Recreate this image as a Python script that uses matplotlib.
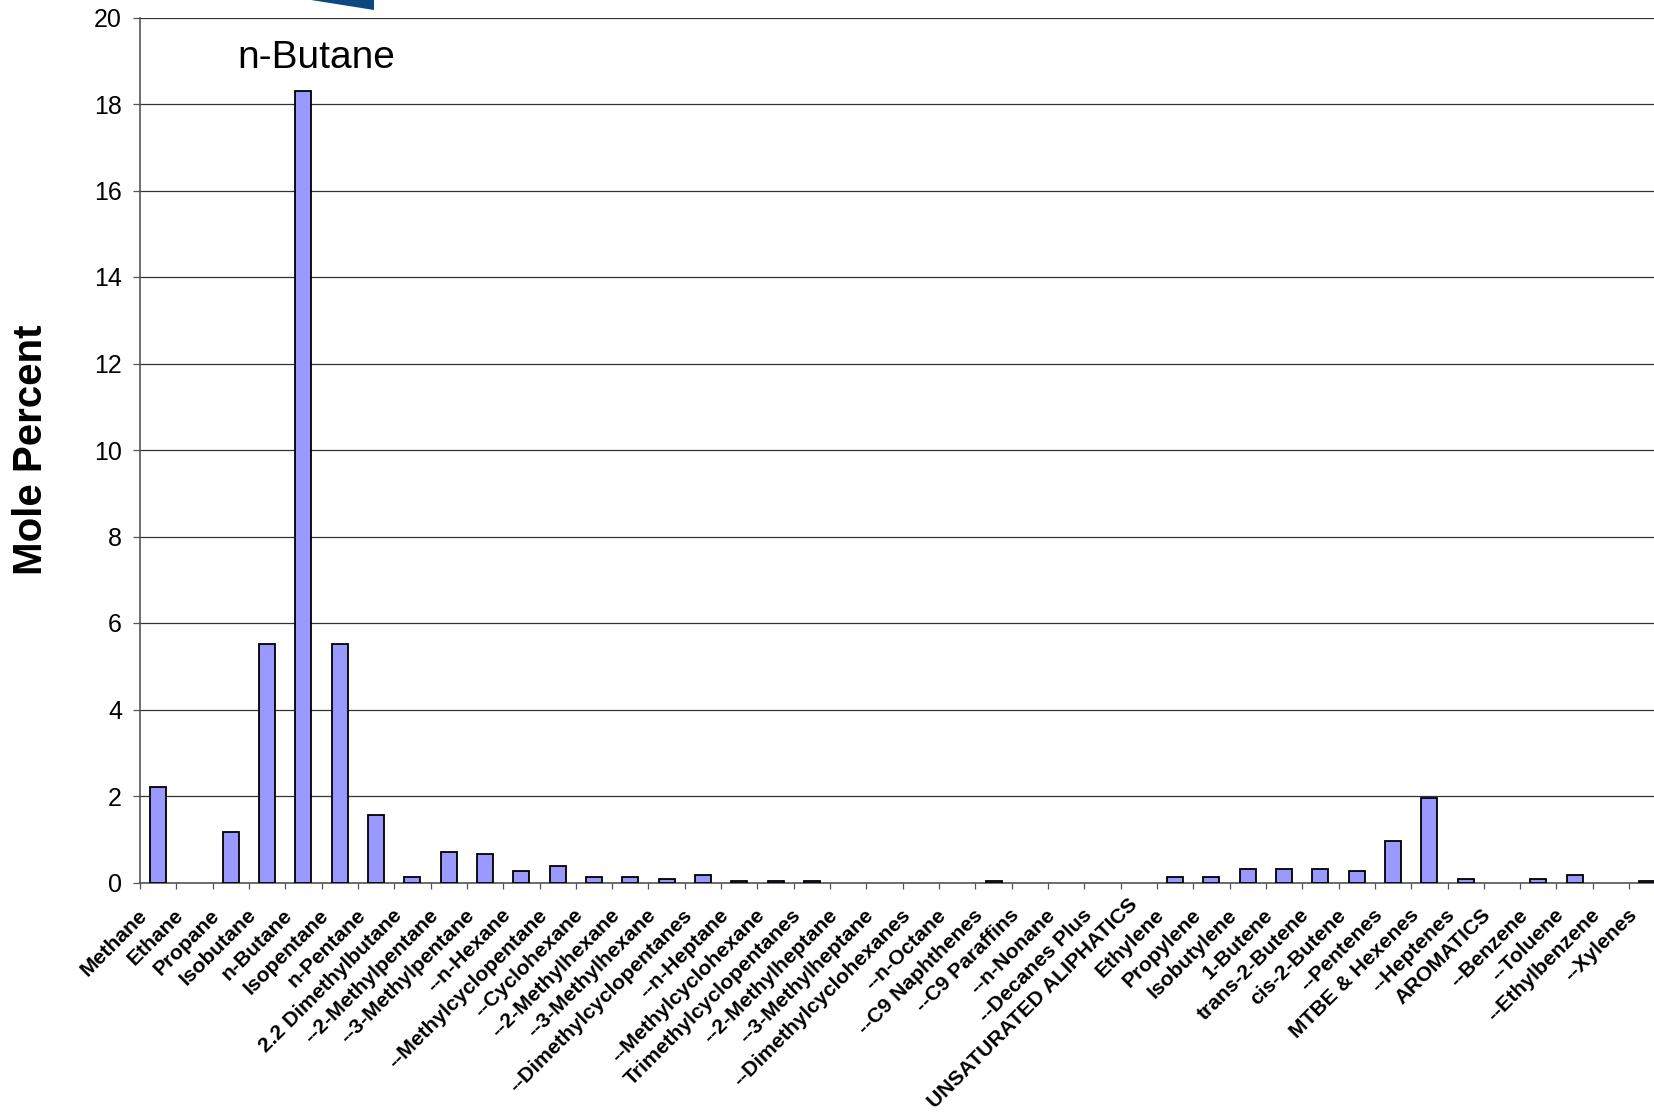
import matplotlib
matplotlib.use("Agg")
import matplotlib.pyplot as plt
import matplotlib.transforms as mtransforms
from matplotlib.patches import Polygon
import numpy as np

plt.rcParams['font.family'] = ['Liberation Sans', 'DejaVu Sans']

components = [
    "Methane", "Ethane", "Propane", "Isobutane", "n-Butane", "Isopentane",
    "n-Pentane", "2.2 Dimethylbutane", "--2-Methylpentane", "--3-Methylpentane",
    "--n-Hexane", "--Methylcyclopentane", "--Cyclohexane", "--2-Methylhexane",
    "--3-Methylhexane", "--Dimethylcyclopentanes", "--n-Heptane",
    "--Methylcyclohexane", "Trimethylcyclopentanes", "--2-Methylheptane",
    "--3-Methylheptane", "--Dimethylcyclohexanes", "--n-Octane",
    "--C9 Naphthenes", "--C9 Paraffins", "--n-Nonane", "--Decanes Plus",
    "UNSATURATED ALIPHATICS", "Ethylene", "Propylene", "Isobutylene",
    "1-Butene", "trans-2-Butene", "cis-2-Butene", "--Pentenes",
    "MTBE & Hexenes", "--Heptenes", "AROMATICS", "--Benzene", "--Toluene",
    "--Ethylbenzene", "--Xylenes",
]

mole_percent = [
    2.21, 0.0, 1.17, 5.52, 18.29, 5.52,
    1.56, 0.13, 0.70, 0.65,
    0.27, 0.39, 0.13, 0.13,
    0.09, 0.18, 0.03,
    0.03, 0.03, 0.0,
    0.0, 0.0, 0.0,
    0.03, 0.0, 0.0, 0.0,
    0.0, 0.13, 0.13, 0.31,
    0.31, 0.31, 0.26, 0.96,
    1.95, 0.09, 0.0, 0.09, 0.18,
    0.0, 0.03,
]

y_ticks = [0, 2, 4, 6, 8, 10, 12, 14, 16, 18, 20]

W, H = 1654, 1115
fig = plt.figure(figsize=(W / 100, H / 100), dpi=100)
fig.patch.set_facecolor("white")

# plot area runs slightly past the right edge of the canvas
left_px, right_px = 140, 140 + 42 * 36.32
top_px, bottom_px = 17.5, 882.5
ax = fig.add_axes([left_px / W, 1 - bottom_px / H,
                   (right_px - left_px) / W, (bottom_px - top_px) / H])

x = np.arange(len(components))
edge_widths = [1.3 if v > 0 else 0.0 for v in mole_percent]
ax.bar(x, mole_percent, width=0.44, color="#9999FF",
       edgecolor="black", linewidth=edge_widths, zorder=3)

ax.set_xlim(-0.5, len(components) - 0.5)
ax.set_ylim(0, 20)
ax.set_yticks(y_ticks)
ax.set_yticklabels([str(v) for v in y_ticks], fontsize=18)

grid_col = "#333333"
ax.yaxis.grid(True, color=grid_col, linewidth=0.9, zorder=0)
ax.set_axisbelow(True)

for s in ("top", "right"):
    ax.spines[s].set_visible(False)
for s in ("left", "bottom"):
    ax.spines[s].set_color("#555555")
    ax.spines[s].set_linewidth(1.2)

ax.tick_params(axis="y", direction="out", length=5, width=0.9,
               color="#555555", pad=8)

# category labels at centers, tick marks at category boundaries
ax.set_xticks(x)
ax.set_xticklabels(components, rotation=45, ha="right", va="top",
                   rotation_mode="anchor", fontsize=15.2, fontweight="bold")
ax.tick_params(axis="x", which="major", length=0, pad=16.5)
ax.set_xticks(np.arange(len(components) + 1) - 0.5, minor=True)
ax.tick_params(axis="x", which="minor", direction="out", length=4.5,
               width=0.9, color="#555555")
for lbl in ax.get_xticklabels():
    dx, dy = -20.5, 0.0
    if lbl.get_text() == "UNSATURATED ALIPHATICS":
        # the longest label is lifted so it stays inside the canvas
        dx, dy = -11.0, 11.0
    shift = mtransforms.ScaledTranslation(dx / 100, dy / 100, fig.dpi_scale_trans)
    lbl.set_transform(lbl.get_transform() + shift)

ax.set_ylabel("Mole Percent", fontsize=29, fontweight="bold", va="center")
ax.yaxis.set_label_coords((31 - left_px) / (right_px - left_px), 0.5)

ax.text(4.35, 18.83, "n-Butane", fontsize=28, ha="center", va="baseline")

# corner of a dark blue banner shape peeking in at the top
fig.patches.append(Polygon([(311 / W, 1.0), (374 / W, 1.0), (374 / W, 1 - 9.5 / H)],
                           closed=True, transform=fig.transFigure,
                           facecolor="#0B4780", edgecolor="none"))

fig.savefig("out.png", dpi=100, facecolor="white")
